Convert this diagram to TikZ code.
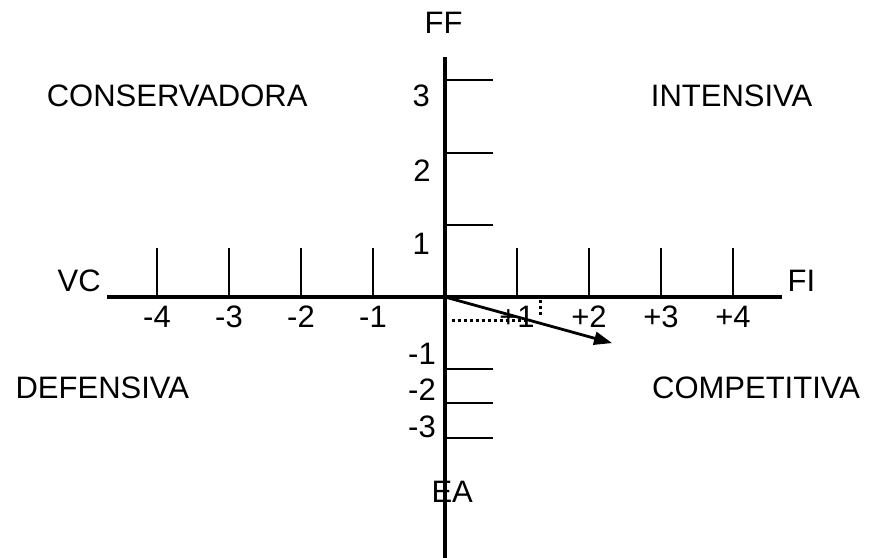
\documentclass[tikz,border=0pt]{standalone}
\usepackage{fontspec}
\setmainfont{Liberation Sans}
\usetikzlibrary{arrows.meta,positioning}

\begin{document}
\begin{tikzpicture}[x=72pt, y=72pt, >={Triangle[length=18pt,width=13pt]},
    every node/.style={font=\fontsize{31}{37}\selectfont, inner sep=0pt},
    axis/.style={line width=3.6pt},
    tickline/.style={line width=1.8pt},
    proj/.style={line width=3pt, dash pattern=on 3pt off 3pt}]
    \useasboundingbox (-6.181, -3.625) rectangle (5.889, 4.125);
    \coordinate (O) at (0, 0);
    % axes
    \draw[axis] (-4.69, 0) -- (4.68, 0);
    \draw[axis] (0, -3.7) -- (0, 3.333);
    % ticks on the horizontal axis
    \foreach \i in {-4,-3,-2,-1,1,2,3,4}
      \draw[tickline] (\i, 0) -- (\i, 0.68);
    \foreach \i in {-4,-3,-2,-1}
      \node (xl\i) at (\i, -0.28) {\i};
    \foreach \i in {1,2,3,4}
      \node (xl\i) at (\i, -0.28) {+\i};
    % ticks on the vertical axis
    \foreach \y in {1, 2, 3.01, -1.0, -1.47, -1.96}
      \draw[tickline] (0, \y) -- (0.667, \y);
    \node (yl3) at (-0.33, 2.79) {3};
    \node (yl2) at (-0.32, 1.75) {2};
    \node (yl1) at (-0.33, 0.74) {1};
    \node (ylm1) at (-0.32, -0.79) {-1};
    \node (ylm2) at (-0.32, -1.29) {-2};
    \node (ylm3) at (-0.32, -1.81) {-3};
    % axis names
    \node (ff) at (-0.02, 3.81) {FF};
    \node (ea) at (0.10, -2.70) {EA};
    \node (vc) at (-5.08, 0.22) {VC};
    \node (fi) at (4.95, 0.22) {FI};
    % quadrants
    \node (cons) at (-3.72, 2.79) {CONSERVADORA};
    \node (inte) at (3.98, 2.79) {INTENSIVA};
    \node (defe) at (-4.76, -1.26) {DEFENSIVA};
    \node (comp) at (4.32, -1.26) {COMPETITIVA};
    % resulting vector
    \coordinate (P) at (1.333, -0.333);
    \coordinate (tip) at (2.32, -0.64);
    \draw[proj] (0.1, -0.333) -- (1.14, -0.333);
    \draw[proj] (1.333, -0.04) -- (1.333, -0.25);
    \draw[->, line width=2.8pt] (O) -- (tip);
\end{tikzpicture}
\end{document}
